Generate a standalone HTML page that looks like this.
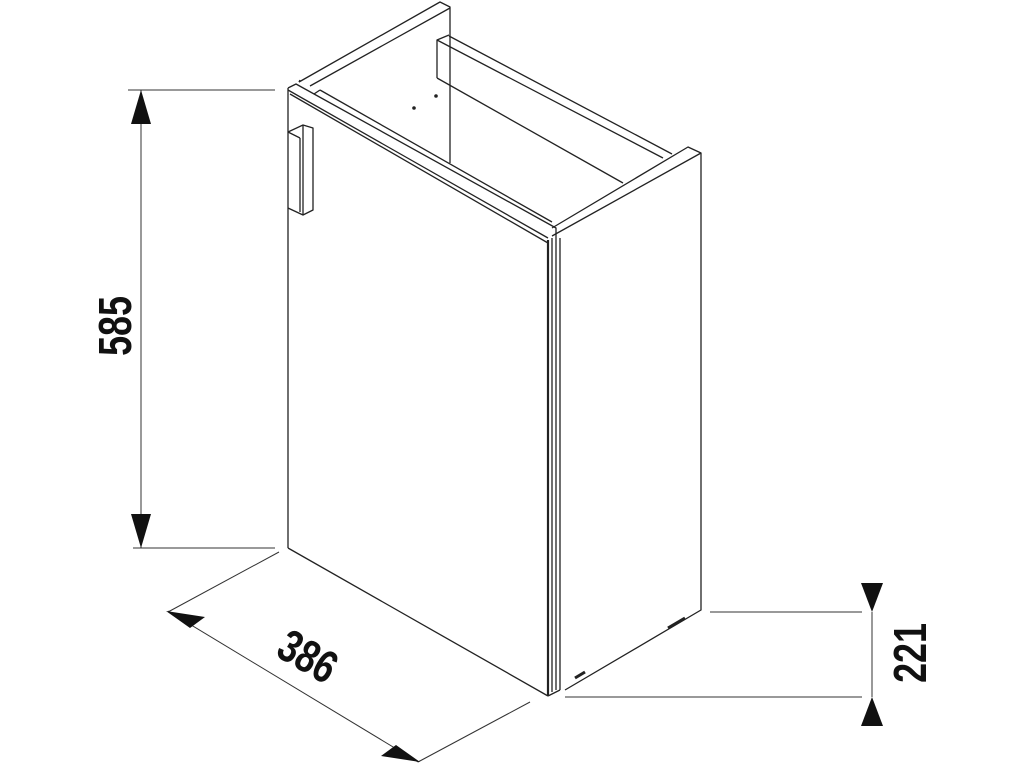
<!DOCTYPE html>
<html><head><style>
html,body{margin:0;padding:0;background:#fff;width:1024px;height:768px;overflow:hidden}
svg{display:block}
text{font-family:"Liberation Sans",sans-serif;font-weight:bold;fill:#111}
</style></head><body>
<svg width="1024" height="768" viewBox="0 0 1024 768" xmlns="http://www.w3.org/2000/svg">
<g fill="none" stroke="#222" stroke-width="1.3" stroke-linejoin="round">
<!-- back left upright -->
<polyline points="299,82 440,2 450,7 450,163"/>
<line x1="299" y1="82" x2="300" y2="80"/>
<polyline points="310,86 450,8"/>
<!-- back rail -->
<polyline points="437,78 437,40 449,35"/>
<line x1="437" y1="40" x2="663" y2="158"/>
<line x1="449" y1="36" x2="672" y2="154"/>
<line x1="437" y1="78" x2="623" y2="183"/>
<!-- right top cap / side panel -->
<polyline points="552,228 688,147 701,153 701,610 565,690"/>
<line x1="552" y1="236" x2="701" y2="153"/>
<line x1="560" y1="238" x2="560" y2="690"/>
<!-- front top rail -->
<polyline points="288,88 296,84 556,228 556,238"/>
<line x1="288" y1="90" x2="548" y2="238"/>
<line x1="290" y1="94" x2="548" y2="243"/>
<line x1="320" y1="90" x2="552" y2="222"/>
<line x1="320" y1="90" x2="314" y2="94"/>
<!-- door -->
<line x1="288" y1="88" x2="288" y2="548"/>
<line x1="288" y1="548" x2="548" y2="696"/>
<line x1="548" y1="240" x2="548" y2="696" stroke-width="2.2"/>
<line x1="552" y1="238" x2="552" y2="692"/>
<line x1="556" y1="238" x2="556" y2="690"/>
<line x1="548" y1="696" x2="560" y2="690"/>
<!-- handle -->
<polyline points="288,132 303,125 313,128 313,210 303,215 288,208"/>
<line x1="303" y1="125" x2="303" y2="215"/>
<line x1="288" y1="132" x2="300" y2="138"/>
<line x1="300" y1="138" x2="300" y2="212"/>
<!-- feet -->
<line x1="575" y1="678" x2="585" y2="672" stroke-width="3"/>
<line x1="668" y1="628" x2="685" y2="618" stroke-width="3"/>
</g>
<circle cx="414" cy="108" r="1.8" fill="#222"/>
<circle cx="436" cy="96" r="1.8" fill="#222"/>
<!-- dimension lines -->
<g stroke="#333" stroke-width="1" fill="none">
<line x1="128" y1="90" x2="275" y2="90"/>
<line x1="133" y1="548" x2="275" y2="548"/>
<line x1="141" y1="90" x2="141" y2="548"/>
<line x1="168" y1="612" x2="279" y2="552"/>
<line x1="168" y1="611" x2="418" y2="762"/>
<line x1="418" y1="762" x2="530" y2="702"/>
<line x1="710" y1="612" x2="862" y2="612"/>
<line x1="565" y1="697" x2="862" y2="697"/>
<line x1="872" y1="612" x2="872" y2="697"/>
</g>
<g fill="#111">
<polygon points="141,90 131,124 151,124"/>
<polygon points="141,548 131,514 151,514"/>
<polygon points="166,611 205,617 190,628"/>
<polygon points="420,762 381,756 396,745"/>
<polygon points="872,612 861,583 883,583"/>
<polygon points="872,697 861,726 883,726"/>
</g>
<text transform="translate(131,326) rotate(-90) scale(0.78,1)" font-size="46" text-anchor="middle">585</text>
<text transform="translate(300,670) rotate(30) scale(0.78,1)" font-size="46" text-anchor="middle">386</text>
<text transform="translate(926,653) rotate(-90) scale(0.78,1)" font-size="46" text-anchor="middle">221</text>
</svg>
</body></html>
